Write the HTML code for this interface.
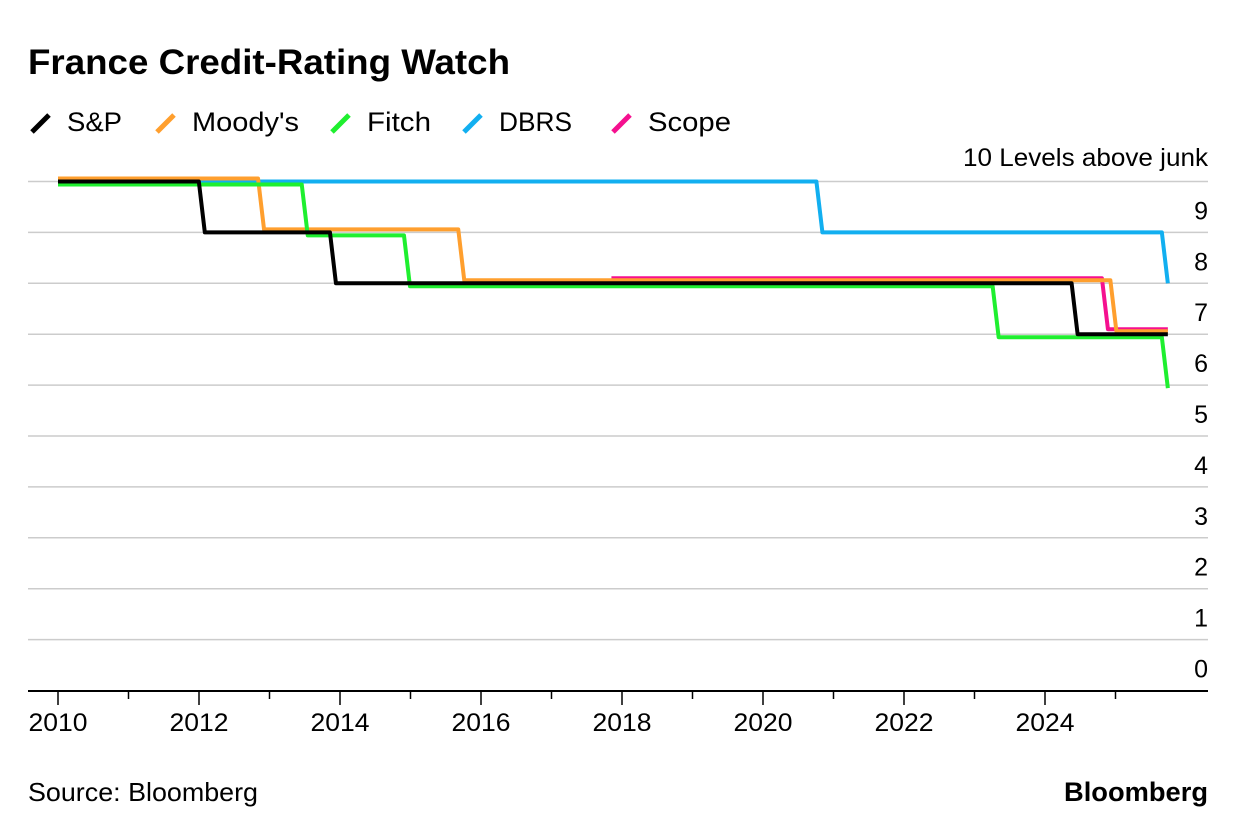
<!DOCTYPE html>
<html><head><meta charset="utf-8"><style>
body{margin:0;background:#fff;font-family:"Liberation Sans",sans-serif;}
svg text{font-family:"Liberation Sans",sans-serif;}
</style></head><body>
<svg width="1237" height="834" id="c">
<text x="28" y="74" font-size="35" font-weight="bold" fill="#000" textLength="482" lengthAdjust="spacingAndGlyphs">France Credit-Rating Watch</text>
<g id="legend"></g>
<text x="1208" y="166" font-size="25" text-anchor="end" textLength="245" lengthAdjust="spacingAndGlyphs">10 Levels above junk</text>
<g id="grid"></g><g id="series"></g><g id="xaxis"></g>
<text x="28" y="801" font-size="26" textLength="230" lengthAdjust="spacingAndGlyphs">Source: Bloomberg</text>
<text x="1208" y="801" font-size="27" font-weight="bold" text-anchor="end" textLength="144" lengthAdjust="spacingAndGlyphs">Bloomberg</text>
</svg>
<script>
const yTicks=[0,1,2,3,4,5,6,7,8,9];
const xYears=[2010,2011,2012,2013,2014,2015,2016,2017,2018,2019,2020,2021,2022,2023,2024,2025];
const seriesNames=["S&P","Moody's","Fitch","DBRS","Scope"];
const seriesColors=["#000000","#ff9f2e","#1fef2f","#12aff0","#f5108f"];
const spDates=[2010,2012.04,2013.9,2024.42,2025.7];
const spVals=[10,9,8,7,7];
const moodysDates=[2010,2012.88,2015.72,2024.97,2025.7];
const moodysVals=[10,9,8,7,7];
const fitchDates=[2010,2013.5,2014.95,2023.3,2025.7];
const fitchVals=[10,9,8,7,6];
const dbrsDates=[2010,2020.8,2025.7];
const dbrsVals=[10,9,8];
const scopeDates=[2017.85,2024.85,2025.7];
const scopeVals=[8,7,7];
const offsets=[0,-3,3,0,-5];
const NS="http://www.w3.org/2000/svg";
const xS=y=>58+(y-2010)*70.5;
const yS=v=>690.5-v*50.9;
function mk(t,a,p){const e=document.createElementNS(NS,t);for(const k in a)e.setAttribute(k,a[k]);p.appendChild(e);return e;}
const grid=document.getElementById('grid');
yTicks.forEach(v=>{
  if(v>0){const l=mk('line',{x1:28,x2:1208,y1:yS(v),y2:yS(v),stroke:'#cccccc','stroke-width':1.5},grid);
  
  }
  const t=mk('text',{x:1208,y:yS(v)-13,'font-size':25,'text-anchor':'end'},grid);t.textContent=v;
  
  
});
const gl=mk('line',{x1:28,x2:1208,y1:yS(10),y2:yS(10),stroke:'#cccccc','stroke-width':1.5},grid);


const xa=document.getElementById('xaxis');
const base=mk('line',{x1:28,x2:1208,y1:691,y2:691,stroke:'#000','stroke-width':2},xa);


xYears.forEach(y=>{
  const maj=(y%2===0);
  mk('line',{x1:xS(y),x2:xS(y),y1:691,y2:maj?705:699,stroke:'#000','stroke-width':1.5},xa);
  if(maj){const t=mk('text',{x:xS(y),y:731,'font-size':25,'text-anchor':'middle',textLength:59,lengthAdjust:'spacingAndGlyphs'},xa);t.textContent=y;
  
  }
});
const all=[[spDates,spVals],[moodysDates,moodysVals],[fitchDates,fitchVals],[dbrsDates,dbrsVals],[scopeDates,scopeVals]];
const order=[3,4,1,2,0];
const sg=document.getElementById('series');
order.forEach(i=>{
  const [d,v]=all[i];let p='';
  for(let k=0;k<d.length;k++){
    const x=xS(d[k]),y=yS(v[k])+offsets[i];
    if(k===0)p+='M'+x+','+y;
    else{const prevY=yS(v[k-1])+offsets[i];p+=' L'+(x-3)+','+prevY+' L'+(x+3)+','+y;}
  }
  const path=mk('path',{d:p,fill:'none',stroke:seriesColors[i],'stroke-width':4,'stroke-linejoin':'round'},sg);
  
  
});
const lg=document.getElementById('legend');
const lx=[30,155,330,462,611];
const lw=[55,107,64,73,83];
seriesNames.forEach((n,i)=>{
  const g=mk('g',{},lg);
  
  
  mk('line',{x1:lx[i]+2,y1:132,x2:lx[i]+19,y2:115,stroke:seriesColors[i],'stroke-width':5},g);
  const t=mk('text',{x:lx[i]+37,y:131,'font-size':27,textLength:lw[i],lengthAdjust:'spacingAndGlyphs'},g);t.textContent=n;
});
</script>
</body></html>
